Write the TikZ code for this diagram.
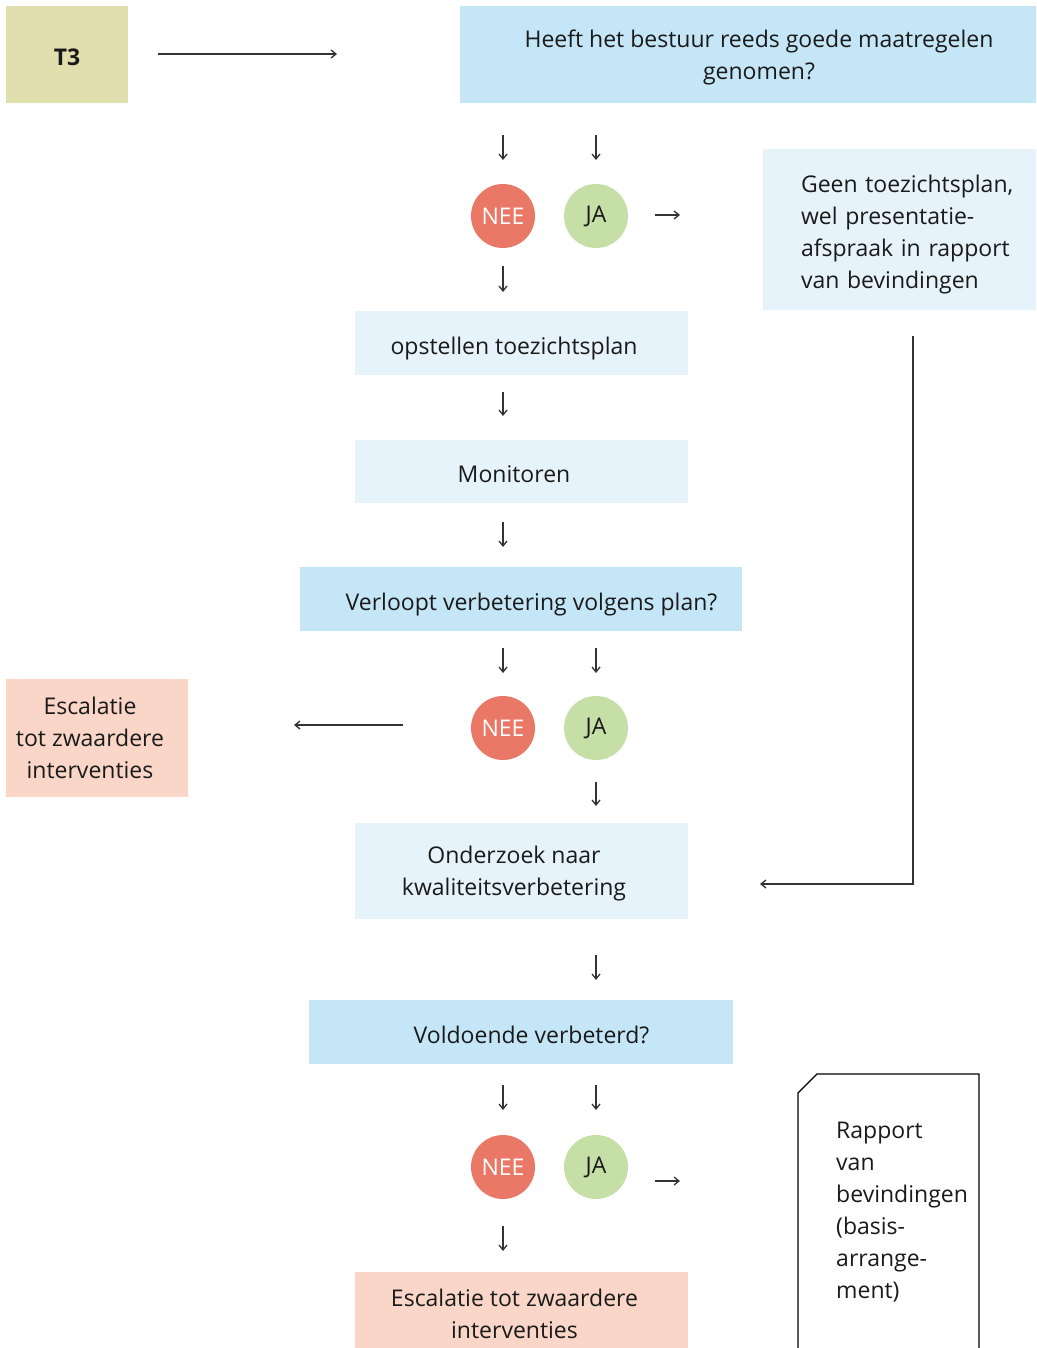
\documentclass[tikz,border=0pt]{standalone}
\usepackage{fontspec}
\setmainfont{Open Sans}
\usepackage{tikz}
\usetikzlibrary{arrows,arrows.meta,positioning}
\definecolor{mblue}{HTML}{C5E6F6}
\definecolor{lblue}{HTML}{E6F3FB}
\definecolor{mpeach}{HTML}{F9D6C7}
\definecolor{molive}{HTML}{E2DFAE}
\definecolor{mred}{HTML}{EA7867}
\definecolor{mgreen}{HTML}{C6DFA6}
\definecolor{mgray}{HTML}{333333}
\definecolor{mtext}{HTML}{1A1A1A}
\tikzstyle{l1}=[line width=1.3, draw=mgray]
\tikzstyle{arr}=[l1, -{Straight Barb[length=5pt, width=8pt]}]
\tikzstyle{txt}=[align=center, inner sep=0pt, text=mtext, yshift=-5, execute at begin node=\strut, execute at end node=\strut]
\tikzstyle{box}=[rectangle, inner sep=0pt, text=mtext]
\tikzstyle{lbox}=[box, fill=lblue, minimum width=333]
\tikzstyle{qbox}=[box, fill=mblue, minimum height=64]
\tikzstyle{ebox}=[box, fill=mpeach]
\tikzstyle{nee}=[circle, fill=mred, minimum size=64, inner sep=0pt, text=white]
\tikzstyle{ja}=[nee, fill=mgreen, text=mtext]

\begin{document}
\begin{tikzpicture}[x=1pt, y=-1pt, font=\fontsize{23}{32}\selectfont]
    \clip (0,0) rectangle (1036,1348);

    \node[box, fill=molive, minimum width=122, minimum height=97, label={[txt, font=\fontsize{23}{32}\selectfont\bfseries]center:T3}] at (67,54.5) (t3) {};
    \node[qbox, minimum width=598, minimum height=97, label={[txt]center:{Heeft het bestuur reeds goede maatregelen\\genomen?}}] at (759,54.5) (q1) {};
    \node[box, fill=lblue, minimum width=290, minimum height=161, label={[txt, align=left, text width=235, xshift=10.5]center:{Geen toezichtsplan,\\wel presentatie-\\afspraak in rapport\\van bevindingen}}] at (908,229.5) (geen) {};

    \node[nee] at (503,216) (nee1) {NEE};
    \node[ja] at (596,216) (ja1) {JA};

    \node[lbox, minimum height=64, label={[txt, xshift=-7.5]center:opstellen toezichtsplan}] at (521.5,343) (opst) {};
    \node[lbox, minimum height=63, label={[txt, xshift=-7.5]center:Monitoren}] at (521.5,471.5) (moni) {};
    \node[qbox, minimum width=442, label={[txt, xshift=10.5]center:Verloopt verbetering volgens plan?}] at (521,599) (q2) {};

    \node[nee] at (503,728) (nee2) {NEE};
    \node[ja] at (596,728) (ja2) {JA};
    \node[ebox, minimum width=182, minimum height=118, label={[txt, xshift=-7]center:{Escalatie\\tot zwaardere\\interventies}}] at (97,738) (esc1) {};

    \node[lbox, minimum height=96, label={[txt, xshift=-7.5]center:{Onderzoek naar\\kwaliteitsverbetering}}] at (521.5,871) (onde) {};
    \node[qbox, minimum width=424, label={[txt, xshift=10.5]center:Voldoende verbeterd?}] at (521,1032) (q3) {};

    \node[nee] at (503,1167) (nee3) {NEE};
    \node[ja] at (596,1167) (ja3) {JA};
    \node[ebox, minimum width=333, minimum height=84, label={[txt, xshift=-7]center:{Escalatie tot zwaardere\\interventies}}] at (521.5,1314) (esc2) {};

    % rapport
    \draw[line width=1.3, draw=black] (798,1360) -- (798,1093) -- (817,1074) -- (979,1074) -- (979,1360);
    \node[txt, align=left, anchor=west] at (836,1210) (rapp) {Rapport\\van\\bevindingen\\(basis-\\arrange-\\ment)};

    % pijlen
    \foreach \n/\xa/\ya/\xb/\yb in {a/158/54/337/54, b/503/135/503/160, c/596/135/596/160,
        d/655/215/680/215, e/503/266/503/292, f/503/392/503/416, g/503/522/503/547,
        h/503/648/503/673, i/596/648/596/673, j/403/725/294/725, k/596/782/596/806,
        l/596/955/596/980, m/503/1085/503/1110, n/596/1085/596/1110, o/655/1181/680/1181,
        p/503/1226/503/1251} {
        \coordinate (\n0) at (\xa,\ya);
        \coordinate (\n1) at (\xb,\yb);
        \draw[arr] (\n0) -- (\n1);
    }
    \coordinate (r0) at (913,336);
    \coordinate (r1) at (760,884);
    \draw[arr] (r0) |- (r1);
\end{tikzpicture}
\end{document}
